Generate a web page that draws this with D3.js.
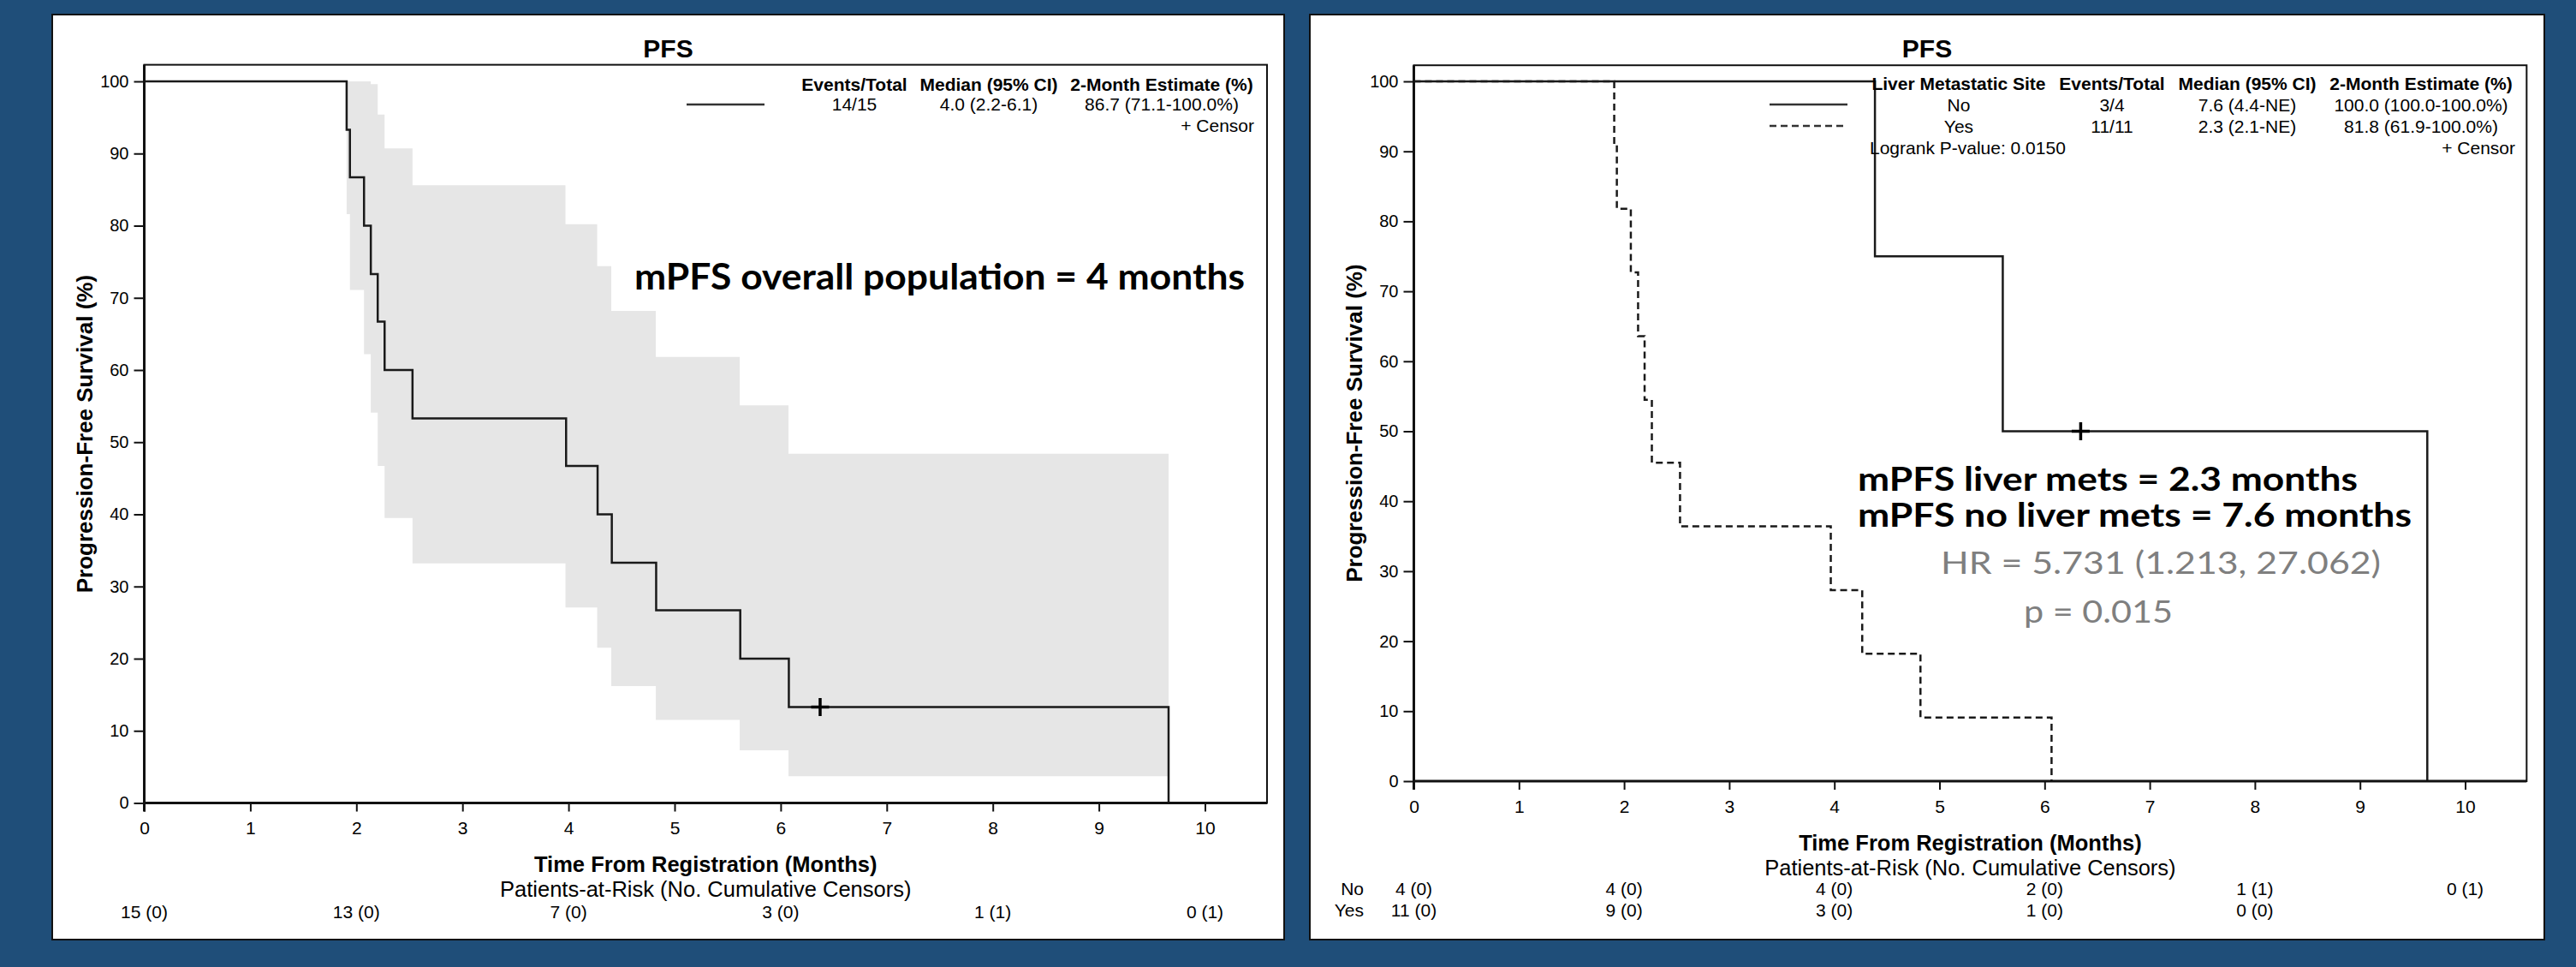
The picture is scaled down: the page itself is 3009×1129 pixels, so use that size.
<!DOCTYPE html>
<html>
<head>
<meta charset="utf-8">
<script src="https://cdnjs.cloudflare.com/ajax/libs/d3/7.8.5/d3.min.js"></script>
<style>
body { margin: 0; background: #1f4e79; }
svg { display: block; }
text { font-family: "Liberation Sans", Arial, sans-serif; fill: #000; }
text.note { font-family: Lato, "Open Sans", sans-serif; }
</style>
</head>
<body>
<svg width="3009" height="1129"></svg>
<script>
// ---- data: overall population (left panel) ----
var overallTimes = [0, 1.908, 1.939, 2.072, 2.136, 2.201, 2.266, 2.529, 3.977, 4.274, 4.408, 4.826, 5.619, 6.077, 9.657];
var overallSurv  = [100, 93.3, 86.7, 80.0, 73.3, 66.7, 60.0, 53.3, 46.7, 40.0, 33.3, 26.7, 20.0, 13.3, 0];
var bandTimes = [1.908, 1.939, 2.072, 2.136, 2.201, 2.266, 2.529, 3.971, 4.270, 4.403, 4.823, 5.614, 6.074, 9.657];
var bandUpper = [100, 100, 100, 99.6, 95.4, 90.7, 85.6, 80.2, 74.4, 68.2, 61.8, 55.1, 48.4, 48.4];
var bandLower = [81.6, 71.1, 62.2, 54.1, 46.7, 39.5, 33.2, 27.1, 21.5, 16.2, 11.5, 7.3, 3.7, 3.7];
var overallCensor = [[6.372, 13.3]];

// ---- data: liver metastatic site (right panel) ----
var noTimes  = [0, 4.386, 5.602, 9.640];
var noSurv   = [100, 75, 50, 0];
var noCensor = [[6.343, 50]];
var yesTimes = [0, 1.906, 1.931, 2.064, 2.133, 2.195, 2.264, 2.532, 3.966, 4.265, 4.819, 6.066];
var yesSurv  = [100, 90.9, 81.8, 72.7, 63.6, 54.5, 45.5, 36.4, 27.3, 18.2, 9.1, 0];

// ---- ticks / at-risk table ----
var xTicks = [0, 1, 2, 3, 4, 5, 6, 7, 8, 9, 10];
var yTicks = [0, 10, 20, 30, 40, 50, 60, 70, 80, 90, 100];
var riskTimes = [0, 2, 4, 6, 8, 10];
var overallRisk = ['15 (0)', '13 (0)', '7 (0)', '3 (0)', '1 (1)', '0 (1)'];
var noRisk  = ['4 (0)', '4 (0)', '4 (0)', '2 (0)', '1 (1)', '0 (1)'];
var yesRisk = ['11 (0)', '9 (0)', '3 (0)', '1 (0)', '0 (0)'];

// legend tables
var legendHeadLeft  = ['Events/Total', 'Median (95% CI)', '2-Month Estimate (%)'];
var legendRowLeft   = ['14/15', '4.0 (2.2-6.1)', '86.7 (71.1-100.0%)'];
var legendHeadRight = ['Liver Metastatic Site', 'Events/Total', 'Median (95% CI)', '2-Month Estimate (%)'];
var legendRowsRight = [
    ['No', '3/4', '7.6 (4.4-NE)', '100.0 (100.0-100.0%)'],
    ['Yes', '11/11', '2.3 (2.1-NE)', '81.8 (61.9-100.0%)']
];

var svg = d3.select('svg');
svg.append('rect').attr('width', 3009).attr('height', 1129).attr('fill', '#1f4e79');

function zip(ts, ss) {
    return ts.map(function(t, i) { return [t, ss[i]]; });
}

// draws the white panel, frame, axes and labels; returns scales
function drawPanel(p) {
    var g = svg.append('g');
    g.append('rect')
        .attr('x', p.left).attr('y', 17)
        .attr('width', p.right - p.left).attr('height', 1080)
        .attr('fill', '#fff').attr('stroke', '#111').attr('stroke-width', 2);

    g.append('text')
        .attr('x', (p.left + p.right) / 2).attr('y', 67)
        .attr('text-anchor', 'middle').attr('font-weight', 'bold').attr('font-size', 30)
        .text('PFS');

    var x = d3.scaleLinear().domain([0, 10]).range([p.x0, p.x10]);
    var y = d3.scaleLinear().domain([0, 100]).range([p.y0, 95]);
    var xEnd = x(10.585), yTop = y(102.3);

    // frame (top / right thin)
    g.append('rect')
        .attr('x', x(0)).attr('y', yTop)
        .attr('width', xEnd - x(0)).attr('height', y(0) - yTop)
        .attr('fill', 'none').attr('stroke', '#111').attr('stroke-width', 2);

    var plot = g.append('g');

    var xAxis = g.append('g')
        .attr('transform', 'translate(0,' + y(0) + ')')
        .call(d3.axisBottom(x).tickValues(xTicks).tickSize(10).tickPadding(12).tickSizeOuter(0));
    var yAxis = g.append('g')
        .attr('transform', 'translate(' + x(0) + ',0)')
        .call(d3.axisLeft(y).tickValues(yTicks).tickSize(12).tickPadding(6).tickSizeOuter(0));
    [xAxis, yAxis].forEach(function(a) {
        a.select('.domain').remove();
        a.selectAll('line').attr('stroke', '#111').attr('stroke-width', 2);
        a.selectAll('text').attr('fill', '#000');
    });
    xAxis.selectAll('text').attr('font-size', 21);
    yAxis.selectAll('text').attr('font-size', 20);

    // thicker axis lines
    g.append('line').attr('x1', x(0)).attr('x2', xEnd).attr('y1', y(0)).attr('y2', y(0))
        .attr('stroke', '#111').attr('stroke-width', 3);
    g.append('line').attr('x1', x(0)).attr('x2', x(0)).attr('y1', yTop).attr('y2', y(0) + 10)
        .attr('stroke', '#111').attr('stroke-width', 3);

    g.append('text')
        .attr('transform', 'translate(' + (x(0) - 70) + ',' + ((yTop + y(0)) / 2) + ') rotate(-90)')
        .attr('text-anchor', 'middle').attr('dy', '0.35em')
        .attr('font-weight', 'bold').attr('font-size', 26)
        .text('Progression-Free Survival (%)');

    var cx = (x(0) + xEnd) / 2;
    g.append('text')
        .attr('x', cx).attr('y', y(0) + 72).attr('dy', '0.35em')
        .attr('text-anchor', 'middle').attr('font-weight', 'bold').attr('font-size', 25.5)
        .text('Time From Registration (Months)');
    g.append('text')
        .attr('x', cx).attr('y', y(0) + 101).attr('dy', '0.35em')
        .attr('text-anchor', 'middle').attr('font-size', 25.5)
        .text('Patients-at-Risk (No. Cumulative Censors)');

    return { g: g, plot: plot, x: x, y: y };
}

function stepLine(P, pts, dash) {
    var line = d3.line()
        .x(function(d) { return P.x(d[0]); })
        .y(function(d) { return P.y(d[1]); })
        .curve(d3.curveStepAfter);
    P.plot.append('path')
        .attr('d', line(pts))
        .attr('fill', 'none')
        .attr('stroke', '#1a1a1a')
        .attr('stroke-width', 2.5)
        .attr('stroke-dasharray', dash || null);
}

function censorMarks(P, pts) {
    P.plot.selectAll(null)
        .data(pts)
        .enter()
        .append('path')
        .attr('d', function(d) {
            var cx = P.x(d[0]), cy = P.y(d[1]);
            return 'M' + (cx - 10.5) + ',' + cy + 'H' + (cx + 10.5) + 'M' + cx + ',' + (cy - 10.5) + 'V' + (cy + 10.5);
        })
        .attr('stroke', '#000').attr('stroke-width', 3.5);
}

function riskRow(P, labels, yy) {
    P.g.selectAll(null)
        .data(labels)
        .enter()
        .append('text')
        .attr('x', function(d, i) { return P.x(riskTimes[i]); })
        .attr('y', yy).attr('dy', '0.35em')
        .attr('text-anchor', 'middle').attr('font-size', 21)
        .text(function(d) { return d; });
}

// ================= left panel =================
var L = drawPanel({ left: 61, right: 1500, x0: 168.5, x10: 1407.5, y0: 937.5 });

var band = d3.area()
    .x(function(d, i) { return L.x(bandTimes[i]); })
    .y0(function(d, i) { return L.y(bandLower[i]); })
    .y1(function(d, i) { return L.y(bandUpper[i]); })
    .curve(d3.curveStepAfter);
L.plot.append('path')
    .attr('d', band(bandTimes))
    .attr('fill', '#e6e6e6');

stepLine(L, zip(overallTimes, overallSurv));
censorMarks(L, overallCensor);
riskRow(L, overallRisk, L.y(0) + 127);

// legend
var legColsL = [998, 1155, 1357];
L.g.selectAll(null).data(legendHeadLeft).enter().append('text')
    .attr('x', function(d, i) { return legColsL[i]; }).attr('y', 99).attr('dy', '0.35em')
    .attr('text-anchor', 'middle').attr('font-weight', 'bold').attr('font-size', 21)
    .text(function(d) { return d; });
L.g.selectAll(null).data(legendRowLeft).enter().append('text')
    .attr('x', function(d, i) { return legColsL[i]; }).attr('y', 122).attr('dy', '0.35em')
    .attr('text-anchor', 'middle').attr('font-size', 21)
    .text(function(d) { return d; });
L.g.append('line').attr('x1', 802).attr('x2', 893).attr('y1', 122).attr('y2', 122)
    .attr('stroke', '#333').attr('stroke-width', 2.5);
L.g.append('text').attr('x', 1465).attr('y', 147).attr('dy', '0.35em')
    .attr('text-anchor', 'end').attr('font-size', 21).text('+  Censor');

L.g.append('text')
    .attr('class', 'note')
    .attr('x', 741).attr('y', 338)
    .attr('font-weight', 'bold').attr('font-size', 42)
    .attr('textLength', 713).attr('lengthAdjust', 'spacingAndGlyphs')
    .text('mPFS overall population = 4 months');

// ================= right panel =================
var R = drawPanel({ left: 1530, right: 2972, x0: 1651.5, x10: 2879.5, y0: 912 });

stepLine(R, zip(yesTimes, yesSurv), '8,5');
stepLine(R, zip(noTimes, noSurv));
censorMarks(R, noCensor);
riskRow(R, noRisk, R.y(0) + 126);
riskRow(R, yesRisk, R.y(0) + 151);
R.g.append('text').attr('x', 1593).attr('y', R.y(0) + 126).attr('dy', '0.35em')
    .attr('text-anchor', 'end').attr('font-size', 21).text('No');
R.g.append('text').attr('x', 1593).attr('y', R.y(0) + 151).attr('dy', '0.35em')
    .attr('text-anchor', 'end').attr('font-size', 21).text('Yes');

var legColsR = [2288, 2467, 2625, 2828];
R.g.selectAll(null).data(legendHeadRight).enter().append('text')
    .attr('x', function(d, i) { return legColsR[i]; }).attr('y', 98).attr('dy', '0.35em')
    .attr('text-anchor', 'middle').attr('font-weight', 'bold').attr('font-size', 21)
    .text(function(d) { return d; });
legendRowsRight.forEach(function(row, r) {
    R.g.selectAll(null).data(row).enter().append('text')
        .attr('x', function(d, i) { return legColsR[i]; }).attr('y', 123 + r * 25).attr('dy', '0.35em')
        .attr('text-anchor', 'middle').attr('font-size', 21)
        .text(function(d) { return d; });
});
R.g.append('line').attr('x1', 2067).attr('x2', 2158).attr('y1', 122).attr('y2', 122)
    .attr('stroke', '#333').attr('stroke-width', 2.5);
R.g.append('line').attr('x1', 2067).attr('x2', 2158).attr('y1', 147).attr('y2', 147)
    .attr('stroke', '#333').attr('stroke-width', 2.5).attr('stroke-dasharray', '8,5');
R.g.append('text').attr('x', 2184).attr('y', 173).attr('dy', '0.35em')
    .attr('font-size', 21).text('Logrank P-value: 0.0150');
R.g.append('text').attr('x', 2938).attr('y', 173).attr('dy', '0.35em')
    .attr('text-anchor', 'end').attr('font-size', 21).text('+  Censor');

// annotations
var notes = [
    { t: 'mPFS liver mets = 2.3 months', x: 2170, y: 573, w: 584, size: 39, bold: true, c: '#000' },
    { t: 'mPFS no liver mets = 7.6 months', x: 2170, y: 615, w: 647, size: 39, bold: true, c: '#000' },
    { t: 'HR = 5.731 (1.213, 27.062)', x: 2267, y: 670, w: 514, size: 36, bold: false, c: '#7f7f7f' },
    { t: 'p = 0.015', x: 2364, y: 727, w: 174, size: 36, bold: false, c: '#7f7f7f' }
];
R.g.selectAll(null).data(notes).enter().append('text')
    .attr('class', 'note')
    .attr('x', function(d) { return d.x; })
    .attr('y', function(d) { return d.y; })
    .attr('font-weight', function(d) { return d.bold ? 'bold' : 'normal'; })
    .attr('font-size', function(d) { return d.size; })
    .attr('textLength', function(d) { return d.w; })
    .attr('lengthAdjust', 'spacingAndGlyphs')
    .style('fill', function(d) { return d.c; })
    .text(function(d) { return d.t; });
</script>
</body>
</html>
